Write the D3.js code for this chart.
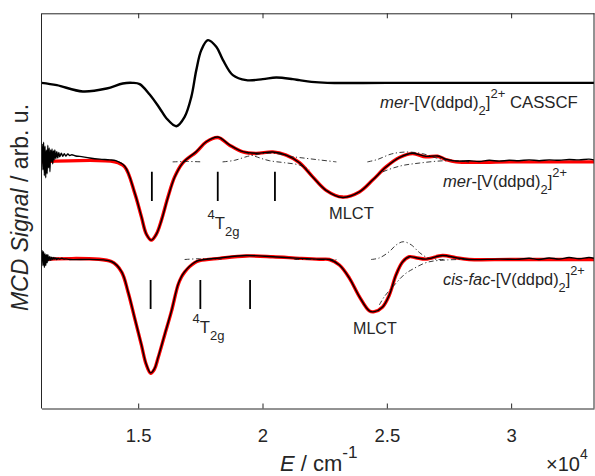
<!DOCTYPE html>
<html>
<head>
<meta charset="UTF-8">
<script src="https://d3js.org/d3.v7.min.js"></script>
<style>
body { margin: 0; background: #fff; }
text { font-family: "Liberation Sans", Arial, sans-serif; fill: #262626; }
</style>
</head>
<body>
<svg id="svg" width="595" height="476"></svg>
<script>
// x tick values (cm^-1), labels shown in units of 10^4
const xTicks = [15000, 20000, 25000, 30000];

// vertical offsets of the three stacked spectra
const offCas = 8.24, offMer = 6.24, offCis = 3.77;

// mer CASSCF calculated spectrum
const casE = [11111, 11727, 12771, 13735, 14378, 14779, 15060, 15462, 15864, 16133, 16534, 16868, 17137, 17337, 17538, 17803, 18141, 18406, 18807, 19346, 20012, 20550, 21217, 21486, 21968, 22610, 25000, 30000, 33333];
const casV = [0, -0.058, -0.218, -0.142, -0.015, 0, -0.033, -0.294, -0.641, -0.894, -1.097, -0.861, -0.355, 0.322, 0.828, 1.082, 0.912, 0.583, 0.195, 0.068, 0.094, 0.137, 0.094, 0.068, 0.025, 0, 0, 0, 0];

// mer experimental
const merExpE = [11111, 11141, 11169, 11197, 11225, 11253, 11281, 11309, 11338, 11365, 11394, 11422, 11450, 11478, 11506, 11534, 11562, 11591, 11619, 11646, 11687, 11727, 11767, 11807, 11848, 11908, 11968, 12028, 12089, 12169, 12249, 12330, 12490, 12651, 13052, 13454, 13856, 14097, 14458, 14860, 15129, 15330, 15530, 15730, 15932, 16197, 16466, 16787, 17337, 17739, 18205, 18675, 19209, 19747, 20414, 20952, 21486, 22020, 22558, 23225, 23896, 24430, 24968, 25502, 26036, 26574, 27040, 27377, 27779, 28313, 28715, 29116, 29518, 29920, 30321, 30723, 31124, 31526, 31928, 32329, 32731, 33132, 33333];
const merExpV = [0.05, 0.45, -0.2, 0.5, -0.35, 0.4, -0.4, 0.3, -0.3, 0.42, -0.15, 0.35, -0.25, 0.3, 0.0, 0.33, -0.05, 0.28, 0.05, 0.3, 0.08, 0.26, 0.1, 0.24, 0.13, 0.22, 0.14, 0.21, 0.15, 0.2, 0.16, 0.18, 0.15, 0.14, 0.1, 0.07, 0.05, 0.03, -0.11, -0.78, -1.38, -1.83, -1.98, -1.83, -1.49, -0.9, -0.39, -0.03, 0.26, 0.51, 0.63, 0.43, 0.26, 0.22, 0.25, 0.17, -0.02, -0.38, -0.72, -0.9, -0.76, -0.46, -0.13, 0.11, 0.22, 0.14, 0.15, 0.07, 0.02, 0.03, 0.01, 0.04, 0.02, 0.04, 0.03, 0.05, 0.03, 0.05, 0.04, 0.06, 0.05, 0.07, 0.05];

// mer fit
const merFitE = [11111, 14057, 14458, 14860, 15129, 15330, 15530, 15730, 15932, 16197, 16466, 16787, 17337, 17739, 18205, 18675, 19209, 19747, 20414, 20952, 21486, 22020, 22558, 23225, 23896, 24430, 24968, 25502, 26036, 26574, 27040, 27377, 27779, 30000, 33333];
const merFitV = [0, 0, -0.127, -0.79, -1.39, -1.83, -1.98, -1.83, -1.48, -0.89, -0.38, -0.03, 0.253, 0.507, 0.618, 0.423, 0.253, 0.213, 0.253, 0.17, -0.02, -0.38, -0.72, -0.89, -0.76, -0.46, -0.127, 0.11, 0.21, 0.127, 0.144, 0.06, 0, 0, 0];

// mer fit components (dash-dot)
const merC1E = [16386, 16989, 17591];
const merC1V = [0, 0.01, 0];
const merC2E = [18394, 18876, 19398, 19880, 20402, 21205, 21486, 22289, 22972];
const merC2V = [0, 0.04, 0.14, 0.2, 0.22, 0.13, 0.11, 0.05, 0];
const merC3E = [19277, 19799, 20281, 20884, 21486, 21888];
const merC3V = [0.25, 0.12, 0.03, -0.02, -0.08, -0.2];
const merC4E = [24217, 24618, 25181, 25783, 26426, 27109, 27791, 28313];
const merC4V = [0, 0.06, 0.2, 0.25, 0.21, 0.08, 0.03, 0];
const merC5E = [24498, 24699, 25502, 26305, 27390, 28313];
const merC5V = [-0.43, -0.3, -0.11, -0.03, 0.03, 0];

// cis-fac experimental
const cisExpE = [11111, 11141, 11169, 11197, 11225, 11253, 11281, 11309, 11338, 11365, 11406, 11446, 11486, 11526, 11566, 11607, 11647, 11687, 11727, 11767, 11848, 11928, 12008, 12089, 12249, 13924, 14326, 14591, 14860, 15129, 15320, 15502, 15650, 15795, 16064, 16334, 16599, 16735, 16868, 17068, 17270, 17470, 18273, 19346, 20414, 21486, 22289, 22691, 23092, 23494, 23896, 24297, 24498, 24831, 25100, 25369, 25635, 25904, 26173, 26574, 27241, 27779, 28313, 29518, 30321, 30723, 31124, 31526, 31928, 32329, 32731, 33132, 33333];
const cisExpV = [0.1, 0.22, -0.15, 0.2, -0.2, 0.15, -0.15, 0.12, -0.08, 0.12, -0.03, 0.08, -0.02, 0.06, 0, 0.05, 0.01, 0.04, 0, 0.03, 0.01, 0.03, 0.01, 0.015, 0, -0.05, -0.3, -0.81, -1.48, -2.15, -2.64, -2.87, -2.77, -2.49, -1.9, -1.31, -0.64, -0.44, -0.31, -0.17, -0.07, -0.02, 0.04, 0.1, 0.07, 0.03, 0.005, 0, -0.14, -0.47, -0.94, -1.3, -1.32, -1.2, -0.9, -0.39, -0.06, 0.07, 0.045, 0.01, 0.1, 0.045, 0, 0.01, 0.005, 0.03, 0, 0.04, 0.01, 0.05, 0.02, 0.05, 0.03];

// cis-fac fit
const cisFitE = [11111, 13924, 14326, 14591, 14860, 15129, 15320, 15502, 15650, 15795, 16064, 16334, 16599, 16735, 16868, 17068, 17270, 17470, 18273, 19346, 20414, 21486, 22289, 22691, 23092, 23494, 23896, 24297, 24498, 24831, 25100, 25369, 25635, 25904, 26173, 26574, 27241, 27779, 28313, 30000, 33333];
const cisFitV = [0, -0.055, -0.31, -0.82, -1.49, -2.16, -2.65, -2.88, -2.78, -2.5, -1.91, -1.32, -0.65, -0.45, -0.32, -0.18, -0.08, -0.03, 0.03, 0.09, 0.07, 0.03, 0.005, 0, -0.14, -0.47, -0.94, -1.3, -1.32, -1.2, -0.9, -0.39, -0.06, 0.07, 0.045, 0.01, 0.1, 0.045, 0, 0, 0];

// cis-fac fit components (dash-dot)
const cisC1E = [16868, 17470, 18353];
const cisC1V = [0, 0.02, 0.01];
const cisC2E = [21285, 22128, 22972];
const cisC2V = [0, 0, 0];
const cisC3E = [24365, 24699, 25100, 25381, 25663, 25984, 26305, 26626, 27109, 27390];
const cisC3V = [0, 0.04, 0.2, 0.37, 0.45, 0.37, 0.18, 0.05, 0, 0];
const cisC4E = [24699, 24900, 25369, 25703, 26024, 26626, 27430, 28313];
const cisC4V = [-1.15, -0.94, -0.6, -0.38, -0.25, -0.07, -0.01, 0];

// transition sticks
const merSticks = [15550, 18200, 20500];
const cisSticks = [15500, 17500, 19500];

const svg = d3.select('#svg');
const x = d3.scaleLinear().domain([11111, 33333]).range([41.5, 594]);
const y = d3.scaleLinear().domain([0, 10]).range([408.5, 13.3]);

svg.append('clipPath').attr('id', 'clip').append('rect')
  .attr('x', 41.5).attr('y', 13.3).attr('width', 594 - 41.5).attr('height', 408.5 - 13.3);

const g = svg.append('g').attr('clip-path', 'url(#clip)');

const line = d3.line().x(d => x(d[0])).y(d => y(d[1])).curve(d3.curveCatmullRom.alpha(0.5));
const pts = (E, V, off) => E.map((e, i) => [e, V[i] + off]);

function draw(E, V, off, color, w, dash) {
  const p = g.append('path').datum(pts(E, V, off))
    .attr('d', line).attr('fill', 'none')
    .attr('stroke', color).attr('stroke-width', w)
    .attr('stroke-linejoin', 'round');
  if (dash) p.attr('stroke-dasharray', dash);
}

// fits (red, underneath)
draw(merFitE, merFitV, offMer, '#ff0000', 3.4);
draw(cisFitE, cisFitV, offCis, '#ff0000', 3.4);

// components
const dd = '5,2.5,1.2,2.5';
draw(merC1E, merC1V, offMer, '#222', 0.9, dd);
draw(merC2E, merC2V, offMer, '#222', 0.9, dd);
draw(merC3E, merC3V, offMer, '#222', 0.9, dd);
draw(merC4E, merC4V, offMer, '#222', 0.9, dd);
draw(merC5E, merC5V, offMer, '#222', 0.9, dd);
draw(cisC1E, cisC1V, offCis, '#222', 0.9, dd);
draw(cisC2E, cisC2V, offCis, '#222', 0.9, dd);
draw(cisC3E, cisC3V, offCis, '#222', 0.9, dd);
draw(cisC4E, cisC4V, offCis, '#222', 0.9, dd);

// experiment (black)
draw(merExpE, merExpV, offMer, '#000', 1.4);
draw(cisExpE, cisExpV, offCis, '#000', 1.4);

// CASSCF
draw(casE, casV, offCas, '#000', 2.4);

// sticks
g.selectAll('.ms').data(merSticks).enter().append('line')
  .attr('x1', d => x(d)).attr('x2', d => x(d))
  .attr('y1', y(offMer - 0.25)).attr('y2', y(offMer - 0.99))
  .attr('stroke', '#000').attr('stroke-width', 1.8);
g.selectAll('.cs').data(cisSticks).enter().append('line')
  .attr('x1', d => x(d)).attr('x2', d => x(d))
  .attr('y1', y(offCis - 0.52)).attr('y2', y(offCis - 1.25))
  .attr('stroke', '#000').attr('stroke-width', 1.8);

// axes
const axB = svg.append('g').attr('transform', 'translate(0,408.5)')
  .call(d3.axisBottom(x).tickValues(xTicks).tickSize(-5).tickSizeOuter(0).tickFormat(d => d / 1e4));
axB.selectAll('text').attr('y', 33).attr('dy', null).style('font-size', '18.5px');
svg.append('g').attr('transform', 'translate(0,13.3)')
  .call(d3.axisTop(x).tickValues(xTicks).tickSize(-5).tickSizeOuter(0).tickFormat(''));
svg.selectAll('.domain, .tick line').attr('stroke', '#262626').attr('stroke-width', 1);
svg.append('line').attr('x1', 41.5).attr('x2', 41.5).attr('y1', 13.3).attr('y2', 408.5).attr('stroke', '#262626');
svg.append('line').attr('x1', 594).attr('x2', 594).attr('y1', 13.3).attr('y2', 408.5).attr('stroke', '#262626');

// labels with sub/superscripts; width fitted to the reference span
function label(xp, yp, size, parts, width) {
  const build = s => {
    const t = svg.append('text').attr('x', xp).attr('y', yp).style('font-size', s + 'px');
    let shift = 0;
    parts.forEach(p => {
      const ts = t.append('tspan').text(p.t);
      const target = p.sub ? 0.42 * s : p.sup ? -0.6 * s : 0;
      ts.attr('dy', target - shift);
      shift = target;
      if (p.sub || p.sup) ts.style('font-size', (s * 0.78) + 'px');
      if (p.i) ts.style('font-style', 'italic');
    });
    return t;
  };
  let t = build(size);
  if (width) {
    const w = t.node().getBBox().width;
    if (w > 0) {
      const s2 = Math.max(12, Math.min(20, size * width / w));
      t.remove();
      t = build(s2);
    }
  }
  return t;
}

label(380, 108, 16, [
  {t: 'mer', i: 1}, {t: '-[V(ddpd)'}, {t: '2', sub: 1}, {t: ']'}, {t: '2+', sup: 1}, {t: ' CASSCF'}
], 198);
label(443, 186.7, 16, [
  {t: 'mer', i: 1}, {t: '-[V(ddpd)'}, {t: '2', sub: 1}, {t: ']'}, {t: '2+', sup: 1}
], 124);
label(443, 285, 16, [
  {t: 'cis', i: 1}, {t: '-'}, {t: 'fac', i: 1}, {t: '-[V(ddpd)'}, {t: '2', sub: 1}, {t: ']'}, {t: '2+', sup: 1}
], 142);
label(329, 219.3, 16, [{t: 'MLCT'}], 45);
label(353, 334, 16, [{t: 'MLCT'}], 44);
label(207.5, 229, 16, [{t: '4', sup: 1}, {t: 'T'}, {t: '2g', sub: 1}], 32);
label(192.5, 333, 16, [{t: '4', sup: 1}, {t: 'T'}, {t: '2g', sub: 1}], 32);

// axis titles
label(280, 471, 22, [{t: 'E', i: 1}, {t: ' / cm'}, {t: '-1', sup: 1}]);
const ex = svg.append('text').attr('x', 546).attr('y', 471).style('font-size', '20px');
ex.append('tspan').text('\u00d710');
ex.append('tspan').attr('dy', -12).style('font-size', '14px').text('4');

const yl = svg.append('text').attr('transform', 'translate(28,207.5) rotate(-90)')
  .attr('text-anchor', 'middle').style('font-size', '23px');
yl.append('tspan').style('font-style', 'italic').text('MCD Signal');
yl.append('tspan').text(' / arb. u.');
</script>
</body>
</html>
